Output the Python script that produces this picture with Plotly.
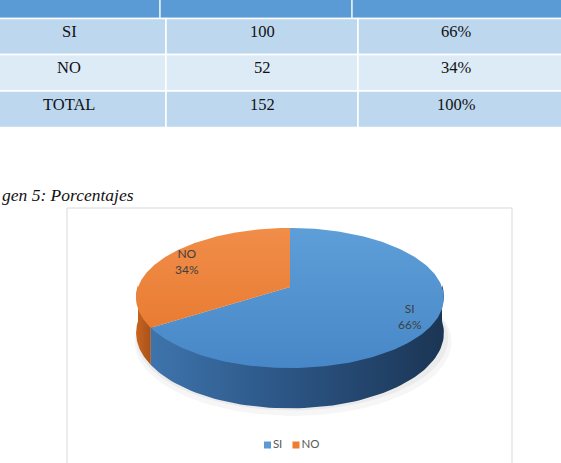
import numpy as np
import plotly.graph_objects as go

# ---------------- data ----------------
categories = ["SI", "NO"]
counts = [100, 52]
pct_labels = ["66%", "34%"]
table_labels = ["SI", "NO", "TOTAL"]
table_counts = ["100", "52", "152"]
table_pcts = ["66%", "34%", "100%"]
caption = "gen 5: Porcentajes"

# ---------------- layout constants ----------------
W, H = 561, 463
CX, CY = 290, 287
RX, RY = 152, 68.3
K = 0.157
DEPTH = 34
top_colors = [("#5fa0d9", "#4787c7"), ("#f18f4b", "#e6752a")]
side_scales = [
    [[0, "#3e74ac"], [0.45, "#2c5686"], [1, "#1b3554"]],
    [[0, "#c8651f"], [1, "#a8521a"]],
]
legend_colors = ["#5b9bd5", "#ed7d31"]


def proj(theta_deg):
    t = np.radians(np.asarray(theta_deg, dtype=float))
    u, v = np.cos(t), -np.sin(t)
    f = 1.0 / (1.0 - K * v)
    return CX + RX * u * f, CY + RY * v * f, f


fig = go.Figure()

# soft shadow
for dx, dy, sx, sy, a in [(3, 9, 1.03, 1.06, 0.035), (2, 6, 1.015, 1.03, 0.045)]:
    th = np.linspace(0, 360, 181)
    x, y, f = proj(th)
    fig.add_trace(go.Scatter(
        x=CX + (x - CX) * sx + dx, y=CY + (y - CY) * sy + DEPTH + dy,
        mode="lines", fill="toself", fillcolor=f"rgba(0,0,0,{a})",
        line=dict(width=0), hoverinfo="skip", showlegend=False))

total = sum(counts)
start = 90.0
slices = []
for i, c in enumerate(counts):
    sweep = 360.0 * c / total
    slices.append((start - sweep, start))
    start -= sweep

# sides (visible front half: 180..360)
for i, (a1, a2) in enumerate(slices):
    for k in (-360, 0, 360):
        lo, hi = max(a1 + k, 180), min(a2 + k, 360)
        if hi <= lo:
            continue
        th = np.linspace(lo, hi, 80)
        x, y, f = proj(th)
        xs = np.concatenate([x, x[::-1]])
        ys = np.concatenate([y - 2, (y + DEPTH * f)[::-1]])
        fig.add_trace(go.Scatter(
            x=xs, y=ys, mode="lines", fill="toself",
            fillgradient=dict(type="horizontal", colorscale=side_scales[i],
                              start=float(x.min()), stop=float(x.max())),
            line=dict(width=0), hoverinfo="skip", showlegend=False))

# top faces
for i, (a1, a2) in enumerate(slices):
    th = np.linspace(a2, a1, 200)
    x, y, f = proj(th)
    xs = np.concatenate([[CX], x, [CX]])
    ys = np.concatenate([[CY], y, [CY]])
    fig.add_trace(go.Scatter(
        x=xs, y=ys, mode="lines", fill="toself",
        fillgradient=dict(type="vertical",
                          colorscale=[[0, top_colors[i][0]], [1, top_colors[i][1]]],
                          start=CY - RY, stop=CY + RY * 1.2),
        line=dict(width=0), hoverinfo="skip", showlegend=False))

annotations = []
# slice labels
for i, (a1, a2) in enumerate(slices):
    mid = (a1 + a2) / 2
    t = np.radians(mid)
    u, v = np.cos(t), -np.sin(t)
    f = 1 / (1 - K * v)
    r = 0.83
    annotations.append(dict(
        x=CX + RX * r * u * f, y=CY + RY * r * v * f, xref="x", yref="y",
        text=f"{categories[i]}<br>{pct_labels[i]}", showarrow=False,
        font=dict(family="Lato", size=12, color="#404040"), align="center"))

# legend
fig.add_trace(go.Scatter(
    x=[267.5 + 28.5 * i for i in range(len(categories))],
    y=[445] * len(categories), mode="markers+text",
    marker=dict(symbol="square", size=7, color=legend_colors),
    text=categories, textposition="middle right",
    textfont=dict(family="Lato", size=11.5, color="#595959"),
    hoverinfo="skip", showlegend=False))

shapes = []
# chart border
shapes.append(dict(type="rect", xref="x", yref="y", x0=67, y0=208, x1=512, y1=480,
                   line=dict(color="#d9d9d9", width=1), fillcolor="rgba(0,0,0,0)",
                   layer="below"))

# table
header_cols = [-40, 160, 352, 600]
row_cols = [-40, 166, 358, 600]
row_edges = [18.5, 54.5, 91, 127.5]
row_fills = ["#bdd7ee", "#ddebf7", "#bdd7ee"]
for j in range(3):
    shapes.append(dict(type="rect", xref="x", yref="y", x0=header_cols[j], x1=header_cols[j + 1],
                       y0=-30, y1=row_edges[0], fillcolor="#5b9bd5",
                       line=dict(color="#e6eef8", width=1.5), layer="below"))
for r in range(3):
    for j in range(3):
        shapes.append(dict(type="rect", xref="x", yref="y", x0=row_cols[j], x1=row_cols[j + 1],
                           y0=row_edges[r], y1=row_edges[r + 1], fillcolor=row_fills[r],
                           line=dict(color="white", width=1.5), layer="below"))

col_centers = [69, 262, 456]
for r in range(3):
    vals = [table_labels[r], table_counts[r], table_pcts[r]]
    for j in range(3):
        annotations.append(dict(
            x=col_centers[j], y=row_edges[r] + 13, xref="x", yref="y",
            text=vals[j], showarrow=False,
            font=dict(family="Liberation Serif", size=16.5, color="#111111")))

annotations.append(dict(
    x=0, y=1 - 195 / H, xref="paper", yref="paper", xanchor="left", yanchor="middle",
    text=f"<i>{caption}</i>", showarrow=False,
    font=dict(family="Liberation Serif", size=17.5, color="#111111")))

fig.update_layout(
    width=W, height=H, margin=dict(l=0, r=0, t=0, b=0),
    paper_bgcolor="white", plot_bgcolor="white", showlegend=False,
    xaxis=dict(range=[0, W], visible=False, fixedrange=True),
    yaxis=dict(range=[H, 0], visible=False, fixedrange=True),
    shapes=shapes, annotations=annotations,
)

fig.write_html("out.html")
